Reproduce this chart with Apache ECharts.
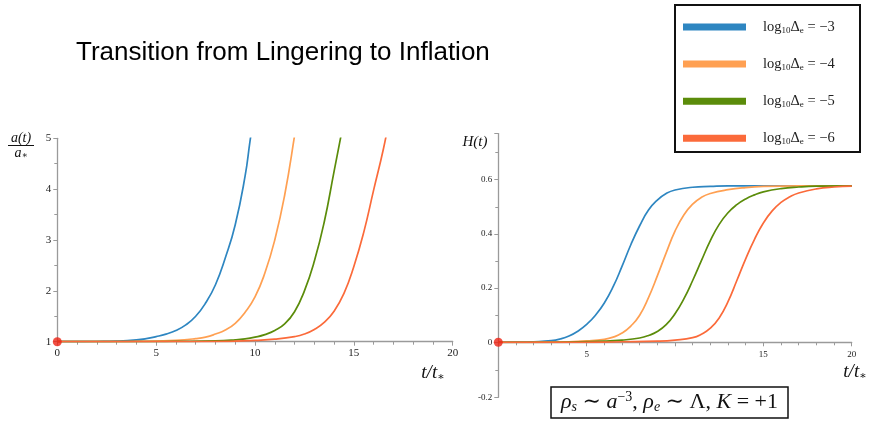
<!DOCTYPE html>
<html><head><meta charset="utf-8">
<script src="https://cdn.jsdelivr.net/npm/echarts@6/dist/echarts.min.js"></script>
<style>html,body{margin:0;padding:0;background:#fff}#c{width:872px;height:426px}</style>
</head><body><div id="c"></div>
<script>
// ---- data ----
const exponents = ['−3', '−4', '−5', '−6'];
const colors = ['#2e86c1', '#ffa052', '#5b8c0a', '#fb6a3a'];
const xTickLabelsLeft = ['0', '5', '10', '15', '20'];
const xTickLabelsRight = ['5', '15', '20'];

// a(t)/a* curves  [t, a]
const aBlue = [[0,1],[1,1.001],[2,1.004],[3,1.012],[4,1.035],[4.5,1.06],[5,1.1],[5.5,1.15],[6,1.22],[6.5,1.33],[7,1.5],[7.5,1.76],[8,2.12],[8.5,2.65],[9,3.3],[9.5,4.26],[9.75,4.95],[10,5.6]];
const aOrange = [[0,1],[2,1.0],[4,1.005],[5,1.012],[6,1.025],[7,1.06],[7.5,1.09],[8,1.15],[8.5,1.23],[9,1.36],[9.5,1.58],[10,1.88],[10.5,2.35],[11,3.0],[11.5,3.88],[12,5.05],[12.2,5.6]];
const aGreen = [[0,1],[4,1.0],[6,1.005],[8,1.015],[9,1.035],[9.5,1.055],[10,1.09],[10.5,1.14],[11,1.22],[11.5,1.35],[12,1.59],[12.5,2.0],[13,2.58],[13.5,3.35],[14,4.35],[14.4,5.15]];
const aRed = [[0,1],[6,1.0],[9,1.01],[10,1.025],[11,1.05],[12,1.1],[12.5,1.15],[13,1.24],[13.5,1.38],[14,1.6],[14.5,1.95],[15,2.48],[15.5,3.15],[16,3.98],[16.5,4.8],[16.8,5.4]];

// H(t) curves  [t, H]
const hBlue = [[0,0],[1,0.0005],[2,0.002],[3,0.006],[3.5,0.012],[4,0.023],[4.5,0.041],[5,0.066],[5.5,0.1],[6,0.145],[6.5,0.205],[7,0.28],[7.5,0.36],[8,0.43],[8.5,0.488],[9,0.525],[9.5,0.549],[10,0.562],[11,0.572],[12,0.575],[13,0.577],[20,0.577]];
const hOrange = [[0,0],[2,0.0005],[4,0.002],[5,0.005],[6,0.011],[6.5,0.019],[7,0.034],[7.5,0.06],[8,0.1],[8.5,0.165],[9,0.245],[9.5,0.33],[10,0.41],[10.5,0.47],[11,0.51],[11.5,0.535],[12,0.549],[13,0.563],[14,0.571],[15,0.575],[17,0.577],[20,0.577]];
const hGreen = [[0,0],[2,0],[4,0.001],[6,0.004],[7,0.008],[8,0.016],[8.5,0.025],[9,0.04],[9.5,0.065],[10,0.105],[10.5,0.16],[11,0.228],[11.5,0.302],[12,0.375],[12.5,0.435],[13,0.478],[13.5,0.508],[14,0.529],[14.5,0.544],[15,0.555],[16,0.567],[17,0.573],[18,0.576],[20,0.577]];
const hRed = [[0,0],[4,0],[7,0.002],[9,0.004],[10,0.008],[11,0.017],[11.5,0.03],[12,0.052],[12.5,0.09],[13,0.15],[13.5,0.228],[14,0.308],[14.5,0.38],[15,0.44],[15.5,0.485],[16,0.516],[16.5,0.537],[17,0.551],[18,0.566],[19,0.573],[20,0.576]];

const startPointA = [[0, 1]];
const startPointH = [[0, 0]];

// ---- chart ----
const names = exponents.map(e => 'log10De = ' + e);
const aData = [aBlue, aOrange, aGreen, aRed];
const hData = [hBlue, hOrange, hGreen, hRed];
const SERIF = '"Liberation Serif", "DejaVu Serif", serif';
const axisGrey = '#9a9a9a';

function axis(gridIndex, fontSize, extra) {
  return Object.assign({
    type: 'value', gridIndex: gridIndex,
    axisLine: { show: true, onZero: false, lineStyle: { color: axisGrey, width: 1.3 } },
    axisTick: { show: true, length: 4, lineStyle: { color: axisGrey } },
    minorTick: { show: true, splitNumber: 5, length: 3, lineStyle: { color: axisGrey } },
    splitLine: { show: false },
    minorSplitLine: { show: false },
    axisLabel: { color: '#222', fontFamily: SERIF, fontSize: fontSize, margin: 6 }
  }, extra);
}

const series = [];
aData.forEach((d, i) => series.push({
  name: names[i], type: 'line', xAxisIndex: 0, yAxisIndex: 0, data: d,
  smooth: 0.5, showSymbol: false, symbol: 'none',
  lineStyle: { color: colors[i], width: 1.7 }, itemStyle: { color: colors[i] }, clip: true
}));
hData.forEach((d, i) => series.push({
  name: names[i], type: 'line', xAxisIndex: 1, yAxisIndex: 1, data: d,
  smooth: 0.5, showSymbol: false, symbol: 'none',
  lineStyle: { color: colors[i], width: 1.7 }, itemStyle: { color: colors[i] }, clip: true
}));
series.push({ type: 'scatter', xAxisIndex: 0, yAxisIndex: 0, data: startPointA, symbolSize: 9,
  itemStyle: { color: '#ee2314' }, clip: false, z: 10 });
series.push({ type: 'scatter', xAxisIndex: 1, yAxisIndex: 1, data: startPointH, symbolSize: 9,
  itemStyle: { color: '#ee2314' }, clip: false, z: 10 });

const chart = echarts.init(document.getElementById('c'), null, { renderer: 'canvas' });
chart.setOption({
  backgroundColor: '#fff',
  animation: false,
  grid: [
    { left: 57.3, top: 138.3, width: 395.4, height: 203.4 },
    { left: 498.3, top: 133.6, width: 353.4, height: 208.7 },
    { left: 498.3, top: 342.3, width: 353.4, height: 55 }
  ],
  xAxis: [
    axis(0, 11, { min: 0, max: 20, interval: 5,
      axisLabel: { color: '#222', fontFamily: SERIF, fontSize: 11, margin: 6,
        formatter: v => xTickLabelsLeft.includes(String(v)) ? String(v) : '' } }),
    axis(1, 9, { min: 0, max: 20, interval: 5,
      axisLabel: { color: '#222', fontFamily: SERIF, fontSize: 9, margin: 8,
        formatter: v => xTickLabelsRight.includes(String(v)) ? String(v) : '' } }),
    axis(2, 9, { min: 0, max: 20, interval: 5, show: false })
  ],
  yAxis: [
    axis(0, 11, { min: 1, max: 5, interval: 1,
      minorTick: { show: true, splitNumber: 2, length: 3, lineStyle: { color: axisGrey } } }),
    axis(1, 9, { min: 0, max: 0.77, interval: 0.2,
      minorTick: { show: true, splitNumber: 2, length: 3, lineStyle: { color: axisGrey } },
      axisLabel: { color: '#222', fontFamily: SERIF, fontSize: 9, margin: 6, showMaxLabel: false,
        formatter: v => (v > 0.7) ? '' : String(Math.round(v * 10) / 10) } }),
    axis(2, 9, { min: -0.2, max: 0, interval: 0.2,
      minorTick: { show: true, splitNumber: 2, length: 3, lineStyle: { color: axisGrey } },
      axisLabel: { color: '#222', fontFamily: SERIF, fontSize: 9, margin: 6, showMaxLabel: false,
        formatter: v => (v < -0.1) ? '-0.2' : '' } })
  ],
  legend: {
    orient: 'vertical', left: 683, top: 19.5, padding: 0, itemWidth: 63, itemHeight: 7, itemGap: 21.6,
    icon: 'rect', data: names, selectedMode: false,
    formatter: n => 'log{s|10}Δ{s|e} = ' + exponents[names.indexOf(n)],
    textStyle: { fontFamily: SERIF, fontSize: 14.5, color: '#222', padding: [0, 0, 0, 12],
      rich: { s: { fontFamily: SERIF, fontSize: 9, color: '#222', padding: [7, 0, 0, 0] } } }
  },
  graphic: [
    { type: 'text', x: 76, y: 53, style: { text: 'Transition from Lingering to Inflation',
      font: '26px "Liberation Sans", Arial, sans-serif', fill: '#000', verticalAlign: 'middle', align: 'left' } },
    { type: 'rect', shape: { x: 675, y: 5, width: 185, height: 147 },
      style: { fill: 'none', stroke: '#111', lineWidth: 2 } },
    { type: 'text', x: 21, y: 138, style: { text: 'a(t)', font: 'italic 14px ' + SERIF, fill: '#111', align: 'center', verticalAlign: 'middle' } },
    { type: 'line', shape: { x1: 8, y1: 145.5, x2: 34, y2: 145.5 }, style: { stroke: '#111', lineWidth: 1 } },
    { type: 'text', x: 21, y: 153, style: { text: '{i|a}{s|∗}', align: 'center', verticalAlign: 'middle',
      rich: { i: { font: 'italic 14px ' + SERIF, fill: '#111' }, s: { font: '9px ' + SERIF, fill: '#111', padding: [6, 0, 0, 0] } } } },
    { type: 'text', x: 475, y: 142, style: { text: 'H(t)', font: 'italic 15px ' + SERIF, fill: '#111', align: 'center', verticalAlign: 'middle' } },
    { type: 'text', x: 433, y: 373, style: { text: '{i|t/t}{s|∗}', align: 'center', verticalAlign: 'middle',
      rich: { i: { font: 'italic 19px ' + SERIF, fill: '#111' }, s: { font: '11px ' + SERIF, fill: '#111', padding: [8, 0, 0, 0] } } } },
    { type: 'text', x: 855, y: 372, style: { text: '{i|t/t}{s|∗}', align: 'center', verticalAlign: 'middle',
      rich: { i: { font: 'italic 19px ' + SERIF, fill: '#111' }, s: { font: '11px ' + SERIF, fill: '#111', padding: [8, 0, 0, 0] } } } },
    { type: 'rect', shape: { x: 551, y: 387, width: 237, height: 31 },
      style: { fill: '#fff', stroke: '#111', lineWidth: 1.5 } },
    { type: 'text', x: 669.5, y: 402.5, style: {
      text: '{i|ρ}{s|s}{n| ∼ }{i|a}{p|−3}{n|, }{i|ρ}{s|e}{n| ∼ Λ, }{i|K}{n| = +1}',
      align: 'center', verticalAlign: 'middle',
      rich: {
        i: { font: 'italic 22px ' + SERIF, fill: '#111' },
        n: { font: '22px ' + SERIF, fill: '#111' },
        s: { font: 'italic 14px ' + SERIF, fill: '#111', padding: [10, 0, 0, 0] },
        p: { font: '14px ' + SERIF, fill: '#111', padding: [0, 0, 10, 0] }
      } } }
  ],
  series: series
});
</script></body></html>
